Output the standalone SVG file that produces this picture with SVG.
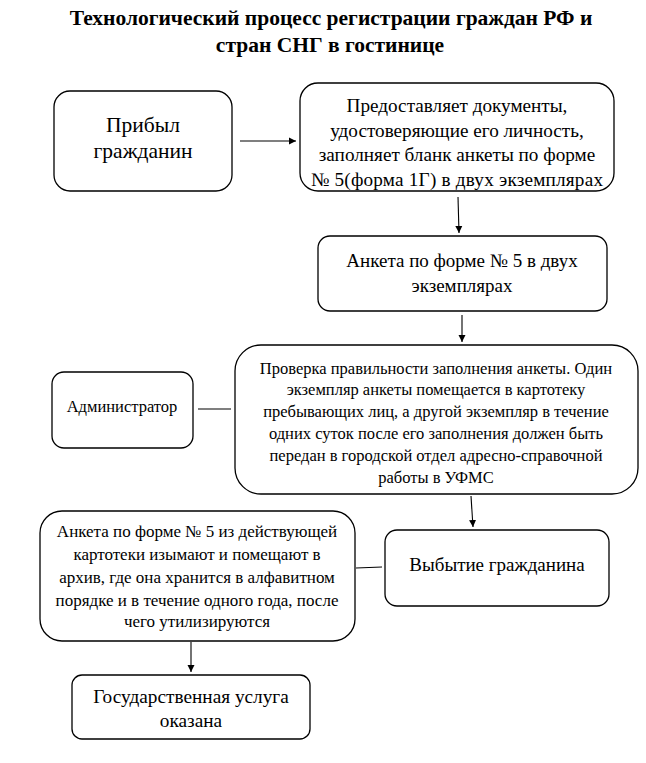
<svg xmlns="http://www.w3.org/2000/svg" width="646" height="763" viewBox="0 0 646 763">
<style>
.b{fill:#fff;stroke:#000;stroke-width:1.3}
.c{stroke:#000;stroke-width:1.1;fill:none}
</style>
<defs>
<marker id="ah" markerWidth="8" markerHeight="8" refX="7" refY="4" orient="auto" markerUnits="userSpaceOnUse">
<path d="M0,0.5 L7,4 L0,7.5 Z" fill="#000"/>
</marker>
</defs>
<rect width="646" height="763" fill="#fff"/>
<g id="title" font-weight="bold" font-size="21.5" text-anchor="middle">
<text font-family="Liberation Serif, serif" x="331" y="25">Технологический процесс регистрации граждан РФ и</text>
<text font-family="Liberation Serif, serif" x="330" y="52">стран СНГ в гостинице</text>
</g>
<g id="connectors">
<line class="c" x1="240" y1="141" x2="296" y2="141" marker-end="url(#ah)"/>
<line class="c" x1="458" y1="197" x2="459" y2="233" marker-end="url(#ah)"/>
<line class="c" x1="462" y1="315" x2="462" y2="342" marker-end="url(#ah)"/>
<line class="c" x1="198" y1="409" x2="231" y2="409"/>
<line class="c" x1="471" y1="496" x2="473" y2="527" marker-end="url(#ah)"/>
<line class="c" x1="356" y1="568" x2="382" y2="567"/>
<line class="c" x1="191" y1="642" x2="191" y2="672" marker-end="url(#ah)"/>
</g>
<g id="n1" text-anchor="middle" font-size="21.5">
<rect class="b" x="54" y="91" width="178" height="100" rx="16"/>
<text font-family="Liberation Serif, serif" x="143" y="132">Прибыл</text>
<text font-family="Liberation Serif, serif" x="143" y="158">гражданин</text>
</g>
<g id="n2" text-anchor="middle" font-size="19.2">
<rect class="b" x="300" y="83" width="314" height="108" rx="18"/>
<text font-family="Liberation Serif, serif" x="457" y="112">Предоставляет документы,</text>
<text font-family="Liberation Serif, serif" x="457" y="136.5">удостоверяющие его личность,</text>
<text font-family="Liberation Serif, serif" x="457" y="161">заполняет бланк анкеты по форме</text>
<text font-family="Liberation Serif, serif" x="457" y="185.5" textLength="292">№ 5(форма 1Г) в двух экземплярах</text>
</g>
<g id="n3" text-anchor="middle" font-size="19">
<rect class="b" x="318" y="236" width="289" height="75" rx="12"/>
<text font-family="Liberation Serif, serif" x="462" y="267">Анкета по форме № 5 в двух</text>
<text font-family="Liberation Serif, serif" x="462" y="292">экземплярах</text>
</g>
<g id="n4" text-anchor="middle" font-size="16.5">
<rect class="b" x="235" y="345" width="403" height="149" rx="26"/>
<text font-family="Liberation Serif, serif" x="436" y="373.5">Проверка правильности заполнения анкеты. Один</text>
<text font-family="Liberation Serif, serif" x="436" y="395">экземпляр анкеты помещается в картотеку</text>
<text font-family="Liberation Serif, serif" x="436" y="417">пребывающих лиц, а другой экземпляр в течение</text>
<text font-family="Liberation Serif, serif" x="436" y="439">одних суток после его заполнения должен быть</text>
<text font-family="Liberation Serif, serif" x="436" y="461">передан в городской отдел адресно-справочной</text>
<text font-family="Liberation Serif, serif" x="436" y="483">работы в УФМС</text>
</g>
<g id="admin" text-anchor="middle" font-size="16.5">
<rect class="b" x="52" y="372" width="141" height="76" rx="12"/>
<text font-family="Liberation Serif, serif" x="122" y="412">Администратор</text>
</g>
<g id="n5" text-anchor="middle" font-size="19">
<rect class="b" x="385" y="530" width="224" height="76" rx="12"/>
<text font-family="Liberation Serif, serif" x="497" y="571">Выбытие гражданина</text>
</g>
<g id="n6" text-anchor="middle" font-size="17">
<rect class="b" x="40" y="511" width="315" height="130" rx="22"/>
<text font-family="Liberation Serif, serif" x="197" y="537">Анкета по форме № 5 из действующей</text>
<text font-family="Liberation Serif, serif" x="197" y="560">картотеки изымают и помещают в</text>
<text font-family="Liberation Serif, serif" x="197" y="583">архив, где она хранится в алфавитном</text>
<text font-family="Liberation Serif, serif" x="197" y="606">порядке и в течение одного года, после</text>
<text font-family="Liberation Serif, serif" x="197" y="627">чего утилизируются</text>
</g>
<g id="n7" text-anchor="middle" font-size="19.3">
<rect class="b" x="72" y="675" width="238" height="64" rx="10"/>
<text font-family="Liberation Serif, serif" x="191" y="703">Государственная услуга</text>
<text font-family="Liberation Serif, serif" x="191" y="727">оказана</text>
</g>
</svg>
